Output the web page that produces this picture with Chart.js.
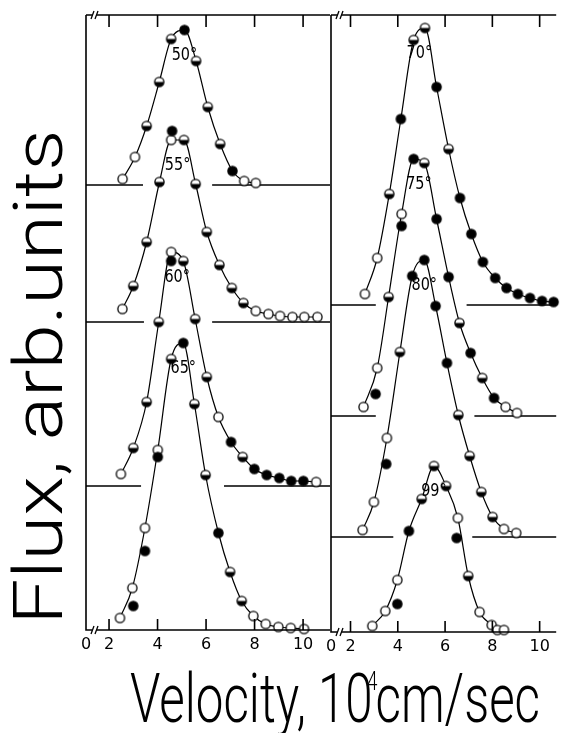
<!DOCTYPE html>
<html><head><meta charset="utf-8">
<script src="https://cdn.jsdelivr.net/npm/chart.js@4.4.1/dist/chart.umd.min.js"></script>
<style>
html,body{margin:0;padding:0;background:#fff;}
#wrap{position:relative;width:562px;height:733px;overflow:hidden;background:#fff;}
#wrap canvas{position:absolute;left:0;top:0;}
</style></head><body>
<div id="wrap"><canvas id="cL" width="562" height="733"></canvas><canvas id="cR" width="562" height="733"></canvas></div>
<script>
// ---------- texts ----------
const yTitle = 'Flux, arb.units';
const xTitleMain = 'Velocity, 10';
const xTitleExp = '4';
const xTitleUnit = 'cm/sec';
const velocityTicks = [2, 4, 6, 8, 10];
const zeroLabel = '0';

// ---------- left panel ----------
const anglesL = ['50°', '55°', '60°', '65°'];
const offsetsL = [445, 308, 144, 0];          // vertical offset of each curve (arb. units)
const gapsL = [[3.40, 6.25], [3.44, 6.25], [3.32, 6.74], null];

const v50 = [2.56, 3.07, 3.55, 4.07, 4.56, 5.11, 5.59, 6.07, 6.58, 7.09, 7.57, 8.05];
const f50 = [6, 28, 59, 103, 146, 155, 124, 78, 41, 14, 4, 2];
const m50 = 'oohhhfhhhfoo';
const xv50 = [], xf50 = [];

const v55 = [2.55, 3.00, 3.55, 4.08, 4.56, 5.09, 5.57, 6.03, 6.55, 7.06, 7.54, 8.05, 8.57, 9.05, 9.56, 10.05, 10.59];
const f55 = [13, 36, 80, 140, 182, 182, 138, 90, 57, 34, 19, 11, 8, 6, 5, 5, 5];
const m55 = 'ohhhohhhhhhoooooo';
const xv55 = [4.60], xf55 = [191];

const v60 = [2.49, 3.00, 3.55, 4.05, 4.56, 5.06, 5.55, 6.03, 6.51, 7.03, 7.51, 7.99, 8.50, 9.02, 9.51, 10.01, 10.54];
const f60 = [12, 38, 84, 164, 234, 225, 167, 109, 69, 44, 29, 17, 11, 8, 5, 5, 4];
const m60 = 'ohhhohhhofhfffffo';
const xv60 = [4.56], xf60 = [225];

const v65 = [2.45, 2.96, 3.48, 4.01, 4.56, 5.06, 5.52, 5.98, 6.51, 6.99, 7.47, 7.95, 8.46, 8.98, 9.49, 10.04];
const f65 = [12, 42, 102, 180, 271, 287, 226, 155, 97, 58, 29, 14, 6, 3, 2, 1];
const m65 = 'oooohfhhfhhooooo';
const xv65 = [3.00, 3.48, 4.01], xf65 = [24, 79, 173];

// ---------- right panel ----------
const anglesR = ['70°', '75°', '80°', '99°'];
const offsetsR = [327, 216, 95, 0];
const gapsR = [[3.07, 6.91], [3.07, 7.24], [3.81, 7.15], null];

const v70 = [2.61, 3.13, 3.64, 4.13, 4.67, 5.15, 5.64, 6.15, 6.63, 7.11, 7.60, 8.12, 8.60, 9.08, 9.59, 10.10, 10.59];
const f70 = [11, 47, 111, 186, 265, 277, 218, 156, 107, 71, 43, 27, 17, 11, 7, 4, 3];
const m70 = 'oohfhhfhfffffffff';
const xv70 = [], xf70 = [];

const v75 = [2.55, 3.13, 3.61, 4.16, 4.67, 5.12, 5.64, 6.15, 6.61, 7.08, 7.57, 8.07, 8.56, 9.04];
const f75 = [9, 48, 119, 202, 257, 253, 197, 139, 93, 63, 38, 18, 9, 3];
const m75 = 'oohofhffhfhfoo';
const xv75 = [3.06, 4.16], xf75 = [22, 190];

const v80 = [2.51, 2.99, 3.54, 4.09, 4.61, 5.12, 5.60, 6.08, 6.56, 7.04, 7.53, 8.01, 8.49, 9.01];
const f80 = [7, 35, 99, 185, 261, 277, 231, 174, 122, 81, 45, 20, 8, 4];
const m80 = 'ooohffffhhhhoo';
const xv80 = [3.51], xf80 = [73];

const v99 = [2.92, 3.47, 3.98, 4.47, 5.01, 5.53, 6.04, 6.54, 6.98, 7.46, 7.97, 8.21, 8.49];
const f99 = [6, 21, 52, 101, 133, 166, 146, 114, 56, 20, 7, 2, 2];
const m99 = 'ooofhhhohoooo';
const xv99 = [3.98, 6.49], xf99 = [28, 94];

// ---------- markers ----------
function markerImg(type) {
  const c = document.createElement('canvas'); c.width = 13; c.height = 13;
  const g = c.getContext('2d'); const r = 4.6, cx = 6.5, cy = 6.5;
  g.fillStyle = '#fff'; g.beginPath(); g.arc(cx, cy, r, 0, Math.PI * 2); g.fill();
  g.fillStyle = '#000';
  if (type === 'f') { g.beginPath(); g.arc(cx, cy, r, 0, Math.PI * 2); g.fill(); }
  if (type === 'h') { g.beginPath(); g.arc(cx, cy, r, 0, Math.PI); g.closePath(); g.fill(); }
  g.lineWidth = 1.3; g.strokeStyle = '#000'; g.beginPath(); g.arc(cx, cy, r, 0, Math.PI * 2); g.stroke();
  return c;
}
const IMG = { o: markerImg('o'), f: markerImg('f'), h: markerImg('h') };

const curvesL = [
  { v: v50, f: f50, m: m50, xv: xv50, xf: xf50 },
  { v: v55, f: f55, m: m55, xv: xv55, xf: xf55 },
  { v: v60, f: f60, m: m60, xv: xv60, xf: xf60 },
  { v: v65, f: f65, m: m65, xv: xv65, xf: xf65 }
];
const curvesR = [
  { v: v70, f: f70, m: m70, xv: xv70, xf: xf70 },
  { v: v75, f: f75, m: m75, xv: xv75, xf: xf75 },
  { v: v80, f: f80, m: m80, xv: xv80, xf: xf80 },
  { v: v99, f: f99, m: m99, xv: xv99, xf: xf99 }
];

function buildDatasets(curves, offsets, gaps, xmin, xmax) {
  const ds = [];
  curves.forEach((c, i) => {
    const off = offsets[i];
    ds.push({
      data: c.v.map((v, j) => ({ x: v, y: off + c.f[j] })),
      borderColor: '#000', borderWidth: 1.2, cubicInterpolationMode: 'monotone',
      pointStyle: c.m.split('').map(t => IMG[t]), pointRadius: 4.6, pointHoverRadius: 4.6,
      clip: false, order: 1
    });
    if (c.xv.length) {
      ds.push({
        data: c.xv.map((v, j) => ({ x: v, y: off + c.xf[j] })),
        showLine: false, pointStyle: IMG.f, pointRadius: 4.6, clip: false, order: 0
      });
    }
    if (gaps[i]) {
      const g = gaps[i];
      ds.push({
        data: [{ x: xmin, y: off }, { x: g[0], y: off }, { x: (g[0] + g[1]) / 2, y: null }, { x: g[1], y: off }, { x: xmax, y: off }],
        borderColor: '#000', borderWidth: 1.6, pointRadius: 0, spanGaps: false, tension: 0, order: 5, clip: false
      });
    }
  });
  return ds;
}

const framePlugin = {
  id: 'frame',
  afterDatasetsDraw(chart) {
    const { ctx, chartArea: a, scales: { x } } = chart;
    ctx.save(); ctx.strokeStyle = '#000'; ctx.lineWidth = 1.6; ctx.lineCap = 'butt';
    ctx.beginPath();
    ctx.moveTo(a.left, a.top); ctx.lineTo(a.right, a.top);
    ctx.moveTo(a.left, a.top); ctx.lineTo(a.left, a.bottom); ctx.lineTo(a.right, a.bottom);
    velocityTicks.forEach(v => {
      const p = x.getPixelForValue(v);
      ctx.moveTo(p, a.bottom); ctx.lineTo(p, a.bottom - 11);
      ctx.moveTo(p, a.top); ctx.lineTo(p, a.top + 12);
    });
    ctx.stroke();
    // axis break marks
    ctx.lineWidth = 1.3;
    [a.top, a.bottom].forEach(yy => {
      const bx = a.left + 8;
      ctx.fillStyle = '#fff'; ctx.fillRect(bx - 2, yy - 2, 5, 4);
      ctx.beginPath();
      ctx.moveTo(bx - 3, yy + 4); ctx.lineTo(bx, yy - 4);
      ctx.moveTo(bx + 1, yy + 4); ctx.lineTo(bx + 4, yy - 4);
      ctx.stroke();
    });
    ctx.restore();
  }
};

function labelPlugin(curves, offsets, angles) {
  return {
    id: 'angles',
    afterDatasetsDraw(chart) {
      const { ctx, scales: { x, y } } = chart;
      ctx.save(); ctx.fillStyle = '#000';
      ctx.font = "17px 'DejaVu Sans', sans-serif"; ctx.textAlign = 'center'; ctx.textBaseline = 'middle';
      curves.forEach((c, i) => {
        const mx = Math.max(...c.f);
        const tops = c.v.filter((v, j) => c.f[j] >= 0.95 * mx);
        const vx = tops.reduce((s, b) => s + b, 0) / tops.length;
        const px = x.getPixelForValue(vx), py = y.getPixelForValue(offsets[i] + mx) + 26;
        ctx.save(); ctx.translate(px, py); ctx.scale(0.85, 1); ctx.fillText(angles[i], 0, 0); ctx.restore();
      });
      ctx.restore();
    }
  };
}

const titlePlugin = {
  id: 'titles',
  afterDraw(chart) {
    const ctx = chart.ctx;
    const big = "300 68px Roboto, 'DejaVu Sans', sans-serif";
    ctx.save(); ctx.fillStyle = '#000';
    ctx.font = big; ctx.textBaseline = 'alphabetic';
    ctx.save();
    ctx.translate(62, 377); ctx.rotate(-Math.PI / 2);
    const w = ctx.measureText(yTitle).width;
    ctx.scale(495 / w, 1);
    ctx.textAlign = 'center';
    ctx.fillText(yTitle, 0, 0);
    ctx.restore();

    ctx.save();
    ctx.font = big; ctx.textAlign = 'left';
    const w1 = ctx.measureText(xTitleMain).width, w2 = ctx.measureText(xTitleUnit).width;
    const gap = 4;
    const sx = 410 / (w1 + gap + w2);
    ctx.translate(130, 722); ctx.scale(sx, 1);
    ctx.fillText(xTitleMain, 0, 0);
    ctx.fillText(xTitleUnit, w1 + gap, 0);
    ctx.font = "300 26px Roboto, 'DejaVu Sans', sans-serif";
    ctx.fillText(xTitleExp, w1 - 8, -32);
    ctx.restore();
    ctx.restore();
  }
};

function makeChart(id, pad, xmin, xmax, ymax, datasets, plugins) {
  return new Chart(document.getElementById(id), {
    type: 'line',
    data: { datasets },
    options: {
      responsive: false, animation: false, events: [], devicePixelRatio: 1,
      layout: { padding: pad },
      plugins: { legend: { display: false }, tooltip: { enabled: false } },
      scales: {
        x: {
          type: 'linear', min: xmin, max: xmax,
          grid: { display: false, drawTicks: false }, border: { display: false },
          afterBuildTicks: s => { s.ticks = [xmin].concat(velocityTicks).map(v => ({ value: v })); },
          afterFit: s => { s.height = 30; },
          ticks: {
            autoSkip: false, maxRotation: 0, minRotation: 0, padding: 5, color: '#000',
            font: { family: "'DejaVu Sans', sans-serif", size: 16 },
            callback: v => (v < 1.9 ? zeroLabel : String(v))
          }
        },
        y: { type: 'linear', display: false, min: 0, max: ymax }
      }
    },
    plugins
  });
}

const xminL = 1.05, xmaxL = 11.11, xminR = 1.175, xmaxR = 10.70;
makeChart('cL', { left: 86, right: 232, top: 15, bottom: 73 }, xminL, xmaxL, 615,
  buildDatasets(curvesL, offsetsL, gapsL, xminL, xmaxL),
  [framePlugin, labelPlugin(curvesL, offsetsL, anglesL), titlePlugin]);
makeChart('cR', { left: 331, right: 0, top: 15, bottom: 71 }, xminR, xmaxR, 617,
  buildDatasets(curvesR, offsetsR, gapsR, xminR, xmaxR),
  [framePlugin, labelPlugin(curvesR, offsetsR, anglesR)]);
</script>
</body></html>
